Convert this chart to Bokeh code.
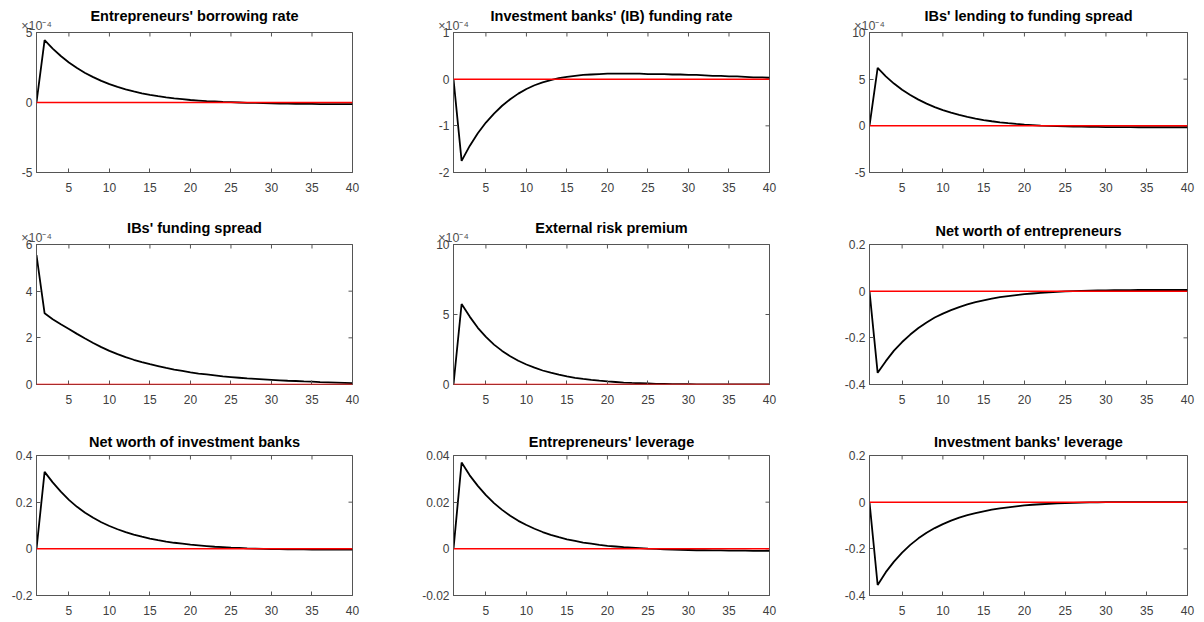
import math
from bokeh.plotting import figure
from bokeh.layouts import gridplot
from bokeh.models import Range1d, LinearAxis, FixedTicker, Span, CustomJSTickFormatter
from bokeh.embed import file_html
from bokeh.resources import INLINE

# ---------------- data ----------------
periods = list(range(1, 41))
x_ticks = [5, 10, 15, 20, 25, 30, 35, 40]

titles = [
    "Entrepreneurs' borrowing rate",
    "Investment banks' (IB) funding rate",
    "IBs' lending to funding spread",
    "IBs' funding spread",
    "External risk premium",
    "Net worth of entrepreneurs",
    "Net worth of investment banks",
    "Entrepreneurs' leverage",
    "Investment banks' leverage",
]

# panels 1-5 are expressed in units of 1e-4 (axis shows "x10^-4")
scale_labels = ["\u00d710\u207b\u2074"] * 5 + [None] * 4

borrowing_rate = [0.00, 4.45, 3.85, 3.32, 2.86, 2.46, 2.11, 1.81, 1.54, 1.31,
                  1.11, 0.94, 0.79, 0.66, 0.55, 0.45, 0.37, 0.30, 0.24, 0.18,
                  0.14, 0.10, 0.07, 0.04, 0.02, 0.00, -0.02, -0.03, -0.05, -0.06,
                  -0.07, -0.08, -0.09, -0.10, -0.10, -0.11, -0.11, -0.12, -0.12, -0.12]

ib_funding_rate = [0.00, -1.75, -1.43, -1.16, -0.93, -0.74, -0.57, -0.43, -0.31, -0.21,
                   -0.13, -0.07, -0.02, 0.02, 0.05, 0.07, 0.09, 0.10, 0.11, 0.12,
                   0.12, 0.12, 0.12, 0.12, 0.11, 0.11, 0.11, 0.10, 0.10, 0.09,
                   0.09, 0.08, 0.07, 0.07, 0.06, 0.06, 0.05, 0.04, 0.04, 0.03]

lending_funding_spread = [0.00, 6.20, 5.30, 4.53, 3.87, 3.30, 2.81, 2.38, 2.01, 1.69,
                          1.41, 1.17, 0.96, 0.78, 0.62, 0.49, 0.38, 0.28, 0.20, 0.13,
                          0.08, 0.03, 0.00, -0.03, -0.06, -0.08, -0.09, -0.11, -0.12, -0.13,
                          -0.13, -0.14, -0.14, -0.15, -0.15, -0.15, -0.15, -0.15, -0.15, -0.15]

ib_funding_spread = [5.55, 3.05, 2.80, 2.58, 2.38, 2.17, 1.97, 1.78, 1.60, 1.44,
                     1.30, 1.17, 1.06, 0.96, 0.87, 0.79, 0.71, 0.64, 0.58, 0.52,
                     0.47, 0.43, 0.39, 0.35, 0.32, 0.29, 0.26, 0.24, 0.22, 0.20,
                     0.18, 0.16, 0.15, 0.13, 0.12, 0.10, 0.09, 0.08, 0.07, 0.06]

external_risk_premium = [0.00, 5.75, 4.85, 4.05, 3.40, 2.85, 2.40, 2.02, 1.70, 1.43,
                         1.20, 1.00, 0.84, 0.70, 0.58, 0.48, 0.40, 0.33, 0.27, 0.22,
                         0.18, 0.14, 0.11, 0.09, 0.07, 0.05, 0.04, 0.03, 0.02, 0.02,
                         0.01, 0.01, 0.01, 0.00, 0.00, 0.00, 0.00, 0.00, 0.00, 0.00]

nw_entrepreneurs = [0.000, -0.350, -0.300, -0.255, -0.218, -0.186, -0.158, -0.134, -0.113, -0.096,
                    -0.081, -0.068, -0.057, -0.047, -0.039, -0.032, -0.026, -0.021, -0.017, -0.013,
                    -0.010, -0.007, -0.005, -0.003, -0.001, 0.000, 0.001, 0.002, 0.003, 0.003,
                    0.004, 0.004, 0.004, 0.005, 0.005, 0.005, 0.005, 0.005, 0.005, 0.005]

nw_investment_banks = [0.000, 0.330, 0.285, 0.245, 0.210, 0.180, 0.155, 0.133, 0.114, 0.098,
                       0.084, 0.072, 0.061, 0.052, 0.044, 0.037, 0.031, 0.026, 0.022, 0.018,
                       0.015, 0.012, 0.009, 0.007, 0.005, 0.004, 0.002, 0.001, 0.000, -0.001,
                       -0.001, -0.002, -0.002, -0.002, -0.003, -0.003, -0.003, -0.003, -0.003, -0.003]

entrepreneurs_leverage = [0.0000, 0.0370, 0.0315, 0.0270, 0.0230, 0.0196, 0.0167, 0.0142, 0.0120, 0.0102,
                          0.0086, 0.0072, 0.0060, 0.0050, 0.0041, 0.0034, 0.0027, 0.0022, 0.0017, 0.0013,
                          0.0010, 0.0007, 0.0005, 0.0003, 0.0001, 0.0000, -0.0002, -0.0003, -0.0004, -0.0005,
                          -0.0006, -0.0006, -0.0007, -0.0007, -0.0008, -0.0008, -0.0008, -0.0009, -0.0009, -0.0009]

ib_leverage = [0.000, -0.355, -0.300, -0.255, -0.216, -0.183, -0.155, -0.131, -0.111, -0.094,
               -0.079, -0.066, -0.056, -0.047, -0.039, -0.032, -0.027, -0.022, -0.018, -0.014,
               -0.011, -0.009, -0.007, -0.005, -0.004, -0.003, -0.002, -0.001, -0.001, 0.000,
               0.000, 0.000, 0.000, 0.000, 0.000, 0.000, 0.000, 0.000, 0.000, 0.000]

series = [borrowing_rate, ib_funding_rate, lending_funding_spread, ib_funding_spread,
          external_risk_premium, nw_entrepreneurs, nw_investment_banks,
          entrepreneurs_leverage, ib_leverage]

y_ticks = [
    [-5, 0, 5],
    [-2, -1, 0, 1],
    [-5, 0, 5, 10],
    [0, 2, 4, 6],
    [0, 5, 10],
    [-0.4, -0.2, 0, 0.2],
    [-0.2, 0, 0.2, 0.4],
    [-0.02, 0, 0.02, 0.04],
    [-0.4, -0.2, 0, 0.2],
]

# ---------------- styling / layout ----------------
FONT = "Liberation Sans"
AX_COLOR = "#555555"
LABEL_COLOR = "#404040"
col_width = [401, 401, 402]
row_height = [207, 207, 208]
col_border = [(36, 49), (52, 33), (67, 17)]    # (left, right)
row_border = [(32, 35), (37, 30), (41, 27)]    # (top, bottom)

fmt = CustomJSTickFormatter(code="return tick.toString()")


def style_axis(ax):
    ax.axis_line_color = AX_COLOR
    ax.major_tick_line_color = AX_COLOR
    ax.major_tick_in = 4
    ax.major_tick_out = 0
    ax.minor_tick_line_color = None
    ax.major_label_text_font = FONT
    ax.major_label_text_color = LABEL_COLOR
    ax.major_label_text_font_size = "12px"


figs = []
for i in range(9):
    r, c = divmod(i, 3)
    yt = y_ticks[i]
    p = figure(width=col_width[c], height=row_height[r], output_backend="svg", toolbar_location=None,
               x_range=Range1d(1, 40), y_range=Range1d(yt[0], yt[-1]),
               x_axis_type=None, y_axis_type=None,
               min_border_left=col_border[c][0], min_border_right=col_border[c][1],
               min_border_top=row_border[r][0], min_border_bottom=row_border[r][1],
               background_fill_color="white", border_fill_color="white")
    p.outline_line_color = AX_COLOR
    p.outline_line_width = 1

    bottom = LinearAxis(ticker=FixedTicker(ticks=x_ticks), formatter=fmt)
    style_axis(bottom)
    bottom.major_label_standoff = 10
    left = LinearAxis(ticker=FixedTicker(ticks=yt), formatter=fmt)
    style_axis(left)
    left.major_label_standoff = 4
    p.add_layout(bottom, "below")
    p.add_layout(left, "left")

    # mirrored inward ticks on the top and right edges of the box
    # (dash markers centred on the frame edge; the half outside is clipped)
    p.scatter(x_ticks, [yt[-1]] * len(x_ticks), marker="dash", size=8, angle=math.pi / 2,
              line_color=AX_COLOR, line_width=1)
    p.scatter([40] * len(yt), yt, marker="dash", size=8,
              line_color=AX_COLOR, line_width=1)

    if scale_labels[i]:
        # the "x10^-4" multiplier sits on a label-only top axis, left-aligned
        top = LinearAxis(ticker=FixedTicker(ticks=[]))
        top.axis_line_color = AX_COLOR
        top.axis_label = scale_labels[i]
        top.axis_label_standoff = 0
        top.axis_label_text_font = FONT
        top.axis_label_text_font_size = "12.5px"
        top.axis_label_text_font_style = "normal"
        top.axis_label_text_color = "#505050"
        top.axis_label_align = "start"
        p.add_layout(top, "above")
        title_standoff = -16
    else:
        title_standoff = 11

    p.line(periods, series[i], line_color="black", line_width=1.8)
    p.add_layout(Span(location=0, dimension="width", line_color="#ff0000", line_width=1.5))

    p.title.text = titles[i]
    p.title.align = "center"
    p.title.text_font = FONT
    p.title.text_font_size = "14.5px"
    p.title.text_font_style = "bold"
    p.title.text_color = "black"
    p.title.standoff = title_standoff
    figs.append(p)

grid = gridplot([figs[0:3], figs[3:6], figs[6:9]], toolbar_location=None)

open("out.html", "w").write(file_html(grid, INLINE))
